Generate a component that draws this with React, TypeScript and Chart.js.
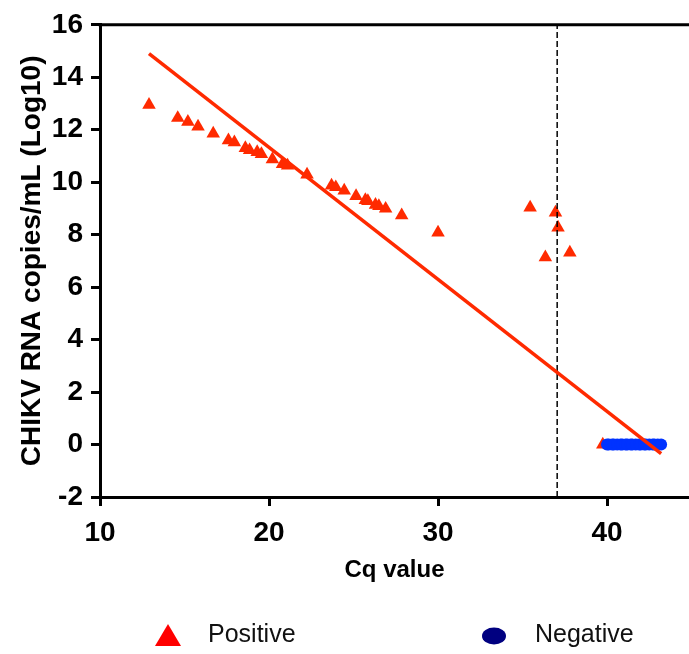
import React, { useEffect, useRef } from "react";
import { Chart, registerables } from "chart.js";

Chart.register(...registerables);

// Positive samples (Cq value, log10 copies/mL)
const positiveCq = [12.9, 14.6, 15.2, 15.8, 16.7, 17.6, 17.95, 18.6, 18.85, 19.3, 19.55, 20.2, 20.8, 21.1, 22.25, 23.7, 23.95, 24.45, 25.15, 25.7, 25.85, 26.3, 26.5, 26.9, 27.85, 30.0, 35.45, 36.95, 37.1, 36.35, 37.8, 39.75];
const positiveLog = [12.95, 12.45, 12.3, 12.12, 11.85, 11.6, 11.52, 11.3, 11.22, 11.15, 11.07, 10.87, 10.69, 10.63, 10.29, 9.87, 9.81, 9.68, 9.47, 9.32, 9.28, 9.14, 9.09, 8.99, 8.74, 8.08, 9.03, 8.84, 8.27, 7.14, 7.32, 0];

// Negative samples
const negativeCq = [40.0, 40.1, 40.3, 40.4, 40.6, 40.8, 40.9, 41.1, 41.2, 41.4, 41.5, 41.7, 41.9, 42.0, 42.2, 42.3, 42.5, 42.7, 42.8, 43.0, 43.2];
const negativeLog = [0, 0, 0, 0, 0, 0, 0, 0, 0, 0, 0, 0, 0, 0, 0, 0, 0, 0, 0, 0, 0];

// Regression line end points
const fitCq = [12.9, 43.2];
const fitLog = [14.9, -0.35];

// Cut-off line
const cutoffCq = [37.05, 37.05];
const cutoffLog = [-2, 16];

// Axis ticks
const xTicks = [10, 20, 30, 40];
const yTicks = [-2, 0, 2, 4, 6, 8, 10, 12, 14, 16];

const legendLabels = ["Positive", "Negative"];
const xTitle = "Cq value";
const yTitle = "CHIKV RNA copies/mL (Log10)";

const RED = "#ff2a00";
const BLUE = "#0033ff";
const FONT = "'Liberation Sans', Arial, Helvetica, sans-serif";

const toPts = (xs: number[], ys: number[]) => xs.map((x, i) => ({ x, y: ys[i] }));

const decorPlugin = {
  id: "decor",
  afterDraw(chart: any) {
    const { ctx, chartArea } = chart;
    ctx.save();
    // top border
    ctx.strokeStyle = "#000";
    ctx.lineWidth = 3;
    ctx.beginPath();
    ctx.moveTo(chartArea.left - 1.5, chartArea.top);
    ctx.lineTo(chart.width, chartArea.top);
    ctx.stroke();

    // legend
    const ly = 635;
    ctx.fillStyle = "#ff0000";
    ctx.beginPath();
    ctx.moveTo(168, ly - 11);
    ctx.lineTo(181, ly + 11);
    ctx.lineTo(155, ly + 11);
    ctx.closePath();
    ctx.fill();

    ctx.fillStyle = "#000080";
    ctx.beginPath();
    ctx.ellipse(494, ly + 1, 12, 8.5, 0, 0, Math.PI * 2);
    ctx.fill();

    ctx.fillStyle = "#111";
    ctx.font = `25px ${FONT}`;
    ctx.textBaseline = "middle";
    ctx.textAlign = "left";
    ctx.fillText(legendLabels[0], 208, ly);
    ctx.fillText(legendLabels[1], 535, ly);
    ctx.restore();
  },
};

export default function App() {
  const ref = useRef<HTMLCanvasElement | null>(null);

  useEffect(() => {
    if (!ref.current) return;
    const chart = new Chart(ref.current, {
      type: "scatter",
      data: {
        datasets: [
          {
            label: "fit",
            data: toPts(fitCq, fitLog),
            showLine: true,
            borderColor: RED,
            borderWidth: 3.5,
            pointRadius: 0,
            order: 0,
          } as any,
          {
            label: "cutoff",
            data: toPts(cutoffCq, cutoffLog),
            showLine: true,
            borderColor: "#000",
            borderWidth: 1.5,
            borderDash: [6, 3],
            pointRadius: 0,
            order: 0,
          } as any,
          {
            label: legendLabels[1],
            data: toPts(negativeCq, negativeLog),
            pointStyle: "circle",
            pointRadius: 6,
            backgroundColor: BLUE,
            borderWidth: 0,
            order: 1,
          } as any,
          {
            label: legendLabels[0],
            data: toPts(positiveCq, positiveLog),
            pointStyle: "triangle",
            pointRadius: 7.8,
            backgroundColor: RED,
            borderWidth: 0,
            order: 2,
          } as any,
        ],
      },
      options: {
        responsive: false,
        devicePixelRatio: 1,
        animation: false,
        layout: { autoPadding: false, padding: { top: 21, bottom: 54, left: 0, right: 0 } },
        plugins: {
          legend: { display: false },
          tooltip: { enabled: false },
        },
        scales: {
          x: {
            type: "linear",
            min: 10,
            max: 44.85,
            afterFit: (s: any) => {
              s.height = 103;
              s.paddingLeft = 0;
              s.paddingRight = 0;
            },
            afterBuildTicks: (s: any) => {
              s.ticks = xTicks.map((v) => ({ value: v }));
            },
            ticks: {
              stepSize: 10,
              includeBounds: false,
              padding: 10,
              color: "#000",
              font: { family: FONT, size: 28, weight: "bold" },
            },
            grid: {
              drawOnChartArea: false,
              drawTicks: true,
              tickLength: 9,
              color: "#000",
              lineWidth: 3,
            },
            border: { display: true, color: "#000", width: 3 },
            title: {
              display: true,
              text: xTitle,
              color: "#000",
              font: { family: FONT, size: 24, weight: "bold" },
              padding: { top: 0, bottom: 15 },
            },
          },
          y: {
            type: "linear",
            min: -2,
            max: 16,
            afterFit: (s: any) => {
              s.width = 100;
            },
            afterBuildTicks: (s: any) => {
              s.ticks = yTicks.map((v) => ({ value: v }));
            },
            ticks: {
              stepSize: 2,
              padding: 8,
              color: "#000",
              font: { family: FONT, size: 28, weight: "bold" },
            },
            grid: {
              drawOnChartArea: false,
              drawTicks: true,
              tickLength: 9,
              color: "#000",
              lineWidth: 3,
            },
            border: { display: true, color: "#000", width: 3 },
            title: {
              display: true,
              text: yTitle,
              color: "#000",
              font: { family: FONT, size: 28, weight: "bold" },
              padding: { top: 15, bottom: 0 },
            },
          },
        },
      },
      plugins: [decorPlugin],
    } as any);
    return () => chart.destroy();
  }, []);

  return (
    <div style={{ position: "fixed", left: 0, top: 0, width: 689, height: 654, background: "#fff" }}>
      <canvas ref={ref} width={689} height={654} style={{ display: "block" }} />
    </div>
  );
}
